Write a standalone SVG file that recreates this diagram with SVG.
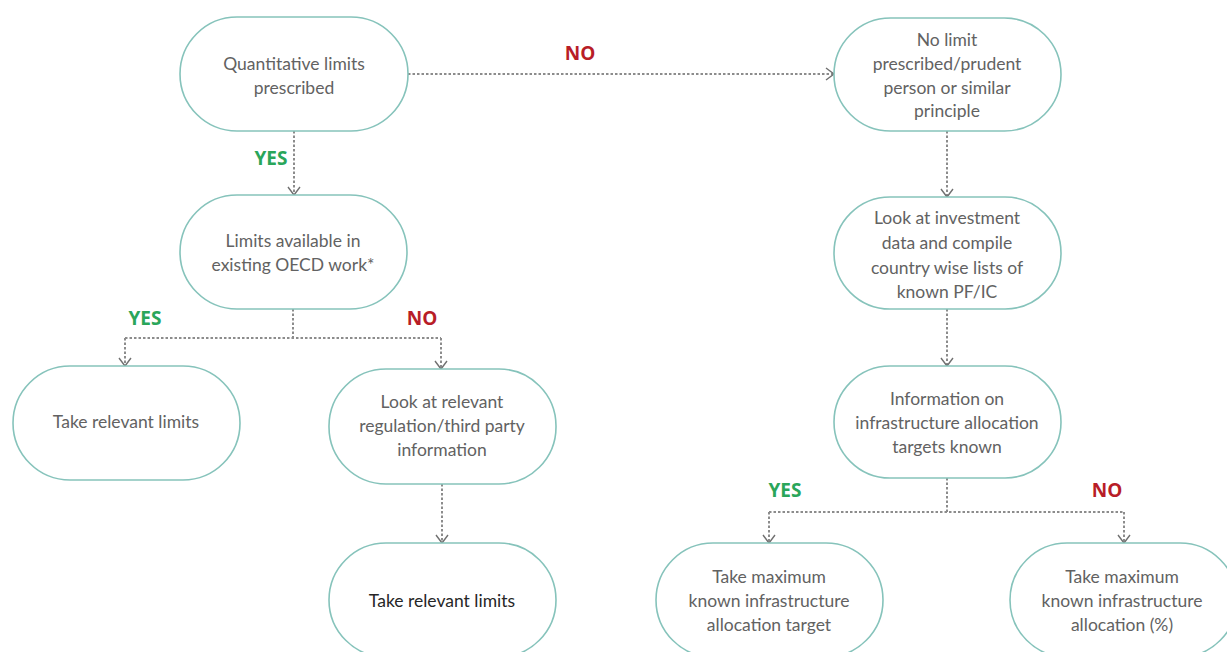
<svg xmlns="http://www.w3.org/2000/svg" width="1227" height="652" viewBox="0 0 1227 652">
  <defs>
    <!-- open chevron arrowhead, drawn pointing along +x and rotated with the path -->
    <marker id="arr" markerWidth="12" markerHeight="14" refX="10" refY="7" orient="auto" markerUnits="userSpaceOnUse" viewBox="0 0 12 14">
      <path d="M2,1 L10,7 L2,13" fill="none" stroke="#707070" stroke-width="1.4"/>
    </marker>
  </defs>
  <style>
    .node { fill: #ffffff; stroke: #86c3bb; stroke-width: 1.6; }
    .t { font-family: Lato, "Open Sans", sans-serif; font-size: 17.5px; fill: #626262; text-anchor: middle; }
    .dark { fill: #262626; }
    .edge { fill: none; stroke: #8c8c8c; stroke-width: 2; stroke-dasharray: 2.5 2; }
    .yes { font-family: "Open Sans", "Liberation Sans", sans-serif; font-weight: bold; font-size: 19px; fill: #2aa65a; text-anchor: middle; }
    .no { font-family: "Open Sans", "Liberation Sans", sans-serif; font-weight: bold; font-size: 19px; fill: #b81d27; text-anchor: middle; }
  </style>
  <rect width="1227" height="652" fill="#ffffff"/>

  <g id="connectors">
    <path class="edge" d="M408,74 H834" marker-end="url(#arr)"/>
    <path class="edge" d="M294,131 V195" marker-end="url(#arr)"/>
    <path class="edge" d="M293,309 V338"/>
    <path class="edge" d="M125,338 H441"/>
    <path class="edge" d="M125,338 V366" marker-end="url(#arr)"/>
    <path class="edge" d="M441,338 V369" marker-end="url(#arr)"/>
    <path class="edge" d="M947,131 V197" marker-end="url(#arr)"/>
    <path class="edge" d="M947,309 V366" marker-end="url(#arr)"/>
    <path class="edge" d="M442,484 V543" marker-end="url(#arr)"/>
    <path class="edge" d="M947,478 V512"/>
    <path class="edge" d="M769,512 H1124"/>
    <path class="edge" d="M769,512 V543" marker-end="url(#arr)"/>
    <path class="edge" d="M1124,512 V543" marker-end="url(#arr)"/>
    <text class="no" x="580" y="60">NO</text>
    <text class="yes" x="271" y="165">YES</text>
    <text class="yes" x="145" y="325">YES</text>
    <text class="no" x="422" y="325">NO</text>
    <text class="yes" x="785" y="497">YES</text>
    <text class="no" x="1107" y="497">NO</text>
  </g>

  <g id="quantitative">
    <rect class="node" x="180" y="17" width="228" height="114" rx="57"/>
    <text class="t" x="294" y="70">Quantitative limits</text>
    <text class="t" x="294" y="94">prescribed</text>
  </g>

  <g id="no-limit">
    <rect class="node" x="834" y="18" width="227" height="113" rx="56.5"/>
    <text class="t" x="947" y="46">No limit</text>
    <text class="t" x="947" y="70">prescribed/prudent</text>
    <text class="t" x="947" y="94">person or similar</text>
    <text class="t" x="947" y="117">principle</text>
  </g>

  <g id="oecd">
    <rect class="node" x="180" y="195" width="227" height="114" rx="57"/>
    <text class="t" x="293" y="247">Limits available in</text>
    <text class="t" x="293" y="271">existing OECD work*</text>
  </g>

  <g id="investment-data">
    <rect class="node" x="834" y="197" width="227" height="112" rx="56"/>
    <text class="t" x="947" y="224">Look at investment</text>
    <text class="t" x="947" y="249">data and compile</text>
    <text class="t" x="947" y="274">country wise lists of</text>
    <text class="t" x="947" y="298">known PF/IC</text>
  </g>

  <g id="take-limits-left">
    <rect class="node" x="13" y="366" width="227" height="114" rx="57"/>
    <text class="t" x="126" y="428">Take relevant limits</text>
  </g>

  <g id="regulation">
    <rect class="node" x="329" y="369" width="227" height="115" rx="57"/>
    <text class="t" x="442" y="408">Look at relevant</text>
    <text class="t" x="442" y="432">regulation/third party</text>
    <text class="t" x="442" y="456">information</text>
  </g>

  <g id="allocation-known">
    <rect class="node" x="834" y="366" width="227" height="112" rx="56"/>
    <text class="t" x="947" y="405">Information on</text>
    <text class="t" x="947" y="429">infrastructure allocation</text>
    <text class="t" x="947" y="453">targets known</text>
  </g>

  <g id="take-limits-bottom">
    <rect class="node" x="329" y="543" width="227" height="114" rx="57"/>
    <text class="t dark" x="442" y="607">Take relevant limits</text>
  </g>

  <g id="max-target">
    <rect class="node" x="656" y="543" width="227" height="114" rx="57"/>
    <text class="t" x="769" y="583">Take maximum</text>
    <text class="t" x="769" y="607">known infrastructure</text>
    <text class="t" x="769" y="631">allocation target</text>
  </g>

  <g id="max-allocation">
    <rect class="node" x="1010" y="543" width="227" height="114" rx="57"/>
    <text class="t" x="1122" y="583">Take maximum</text>
    <text class="t" x="1122" y="607">known infrastructure</text>
    <text class="t" x="1122" y="631">allocation (%)</text>
  </g>
</svg>
